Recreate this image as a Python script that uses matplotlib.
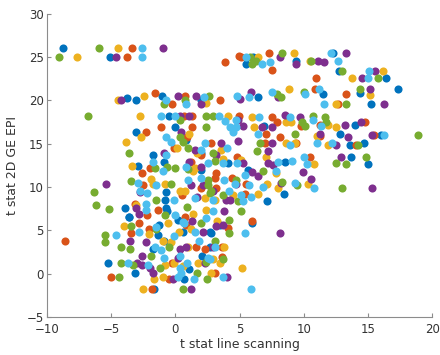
import matplotlib
matplotlib.use("Agg")
import matplotlib.pyplot as plt

# ---- data (t stat line scanning, t stat 2D GE EPI), one list per colour group ----
blue_x = [-8.76, -5.07, -3.77, -3.04, -1.01, 2.03, -0.52, -0.05, -3.04, 0.86, -1.74, 2.03, -0.88, -2.91,
          4.1, 6.05, 5.53, 9.38, 12.29, 12.75, 16.44, 17.33, 14.37, 11.51, 6.44, 15.27, 6.91, 13.98, 12.81,
          16.05, 13.64, 14.7, 8.52, 13.72, 15.0, 5.66, 8.5, 7.14, 5.95, 2.67, -1.35, 0.6, 2.7, -1.27, -3.61,
          0.17, 2.8, -3.12, -1.67, -1.74, 0.67, 2.1, 1.04, -5.25, -3.9, -3.64, -0.83, -0.7, -0.62, 2.03,
          -0.76, -0.92, 3.5]
blue_y = [26, 25, 20.3, 20.1, 20.5, 20.1, 18.2, 16.9, 16.4, 15.4, 13.7, 13.9, 12.94, 12.4,
          12.8, 25.06, 24.2, 24.56, 25.5, 23.4, 22.56, 21.3, 20.9, 20.7, 20.35, 19.6, 17.0, 17.2, 16.1,
          16.0, 14.86, 15.1, 12.9, 13.45, 12.66, 11.97, 9.2, 8.4, 5.85, 3.1, 4.5, 4.8, 4.8, 5.6, 6.5,
          6.2, 4.7, 0.04, -1.76, 2.8, -0.65, 2.0, 0.6, 1.27, 7.55, 6.6, 8.5, 7.6, 7.2, 12.0,
          9.4, 3.8, 5.6]

orange_x = [-3.38, -3.77, 3.84, 4.96, -1.56, -0.24, 0.73, 0.67, 1.32, -1.09, 1.3, -2.26, 0.93, 2.8, -0.11,
            1.97, 1.25, -2.0, 3.45, 5.09, 7.3, 7.56, 10.99, 13.27, 10.86, 12.68, 4.96, 7.56, 7.95, 9.82,
            11.25, 14.75, 15.45, 14.06, 11.25, 9.43, 8.13, 7.04, 6.96, 10.47, 4.8, 5.4, 6.0, 4.4, 5.5,
            3.6, 3.66, 3.1, 3.2, 3.1, 3.2, 4.1, -8.63, -3.43, -2.05, -2.83, 0.85, -4.99, -1.82, -0.26,
            -0.52, 1.64, 2.3, -3.17, -2.52, -2.18, 0.52, 0.73, 1.97, -1.35, -2.57]
orange_y = [26, 25, 24.4, 25.1, 20.9, 19.56, 20.5, 18.2, 18.2, 16.9, 16.9, 16.4, 15.8, 15.1, 14.5,
            13.7, 12.94, 12.2, 20.1, 25.06, 25.5, 23.5, 22.56, 20.7, 21.3, 19.6, 18.2, 18.05, 17.5, 17.0,
            17.2, 17.5, 16.0, 14.86, 15.9, 15.1, 15.8, 16.1, 15.1, 13.45, 13.5, 9.2, 6.12, 11.0, 10.4,
            3.1, 1.97, 0.04, 11.6, 11.0, 9.86, 5.3, 3.8, 4.7, 5.2, 5.8, 5.6, -0.34, -1.76, 1.27,
            -0.65, 3.1, 2.8, 8.0, 10.2, 6.8, 9.1, 6.6, 9.85, 7.4, 11.6]

yellow_x = [-7.67, -4.47, -4.47, -2.45, 2.42, -2.78, -2.7, 1.04, -3.87, 0.15, 1.71, -3.35, 1.5,
            4.1, 3.58, 3.71, 6.41, 9.22, 10.47, 16.18, 13.77, 15.2, 8.83, 12.5, 6.0, 6.1, 8.6, 9.04,
            11.9, 12.55, 11.92, 11.04, 8.65, 9.3, 7.09, 10.78, 5.14, 7.8, 10.3, 8.0, 6.4, 5.19, 4.5,
            7.1, 3.1, 3.8, 2.93, 3.5, 2.8, -4.03, -2.05, 0.3, 1.25, 3.25, -3.1, 2.4, -1.67, -2.52,
            -0.37, -0.83, -0.11, -0.96, 1.77, -1.0, 1.0, 0.6, -1.87, -1.74, -0.57, 0.34, 0.73, 1.37,
            2.29, 1.37, -0.83]
yellow_y = [25, 26, 20.1, 20.5, 19.67, 18.2, 15.8, 16.1, 15.2, 14.5, 13.9, 12.4, 12.2,
            18.2, 14.3, 13.3, 25.06, 25.5, 24.5, 23.4, 22.56, 20.6, 21.3, 19.6, 18.05, 16.9, 17.5, 17.5,
            17.2, 16.9, 14.86, 15.9, 15.1, 15.1, 13.5, 12.66, 13.1, 11.6, 10.3, 9.9, 9.2, 0.7, 9.1,
            10.4, 8.5, 3.1, 1.7, 1.2, 0.04, 5.5, 4.6, 4.8, 5.2, 6.1, 7.9, 7.3, -0.65, -1.76,
            3.7, 1.0, 1.27, -0.34, 1.27, 3.8, 3.05, 0.9, 10.9, 10.3, 5.8, 9.5, 9.5, 6.9,
            8.7, 11.8, 10.3]

purple_x = [-4.65, -0.97, -4.21, 0.21, 1.64, 2.03, 0.34, 1.04, 0.46, 1.5, -0.88, 1.06, 1.97,
            3.58, 3.19, 8.13, 9.43, 11.12, 11.58, 13.33, 15.59, 14.57, 15.14, 8.0, 5.0, 5.92, 16.24,
            4.88, 5.27, 6.75, 7.56, 8.57, 9.69, 13.25, 14.5, 13.46, 15.35, 12.5, 11.3, 7.56, 4.88, 7.22,
            7.22, 7.61, 12.88, 5.27, 6.0, 6.45, 9.95, 10.6, 15.35, 8.2, 8.18, 4.75, 4.23, 4.0, 3.95,
            3.8, 3.2, -5.38, 2.15, -2.83, 1.3, 3.7, -3.56, -2.26, -2.96, -2.6, -2.6, -2.0, -1.74,
            -0.18, 0.21, 0.34, 0.86, 1.25, 2.3, 2.9, -3.04, 1.71, 1.25, 2.16, 2.93, -2.78]
purple_y = [25, 26, 20.1, 20.5, 20.5, 19.56, 18.2, 18.2, 16.4, 14.3, 13.9, 12.94, 12.3,
            15.1, 13.7, 25.06, 24.2, 24.5, 24.4, 25.5, 23.4, 22.56, 21.3, 20.35, 20.2, 21.0, 19.6,
            17.7, 17.0, 16.9, 16.9, 18.3, 18.05, 17.2, 17.5, 15.8, 16.0, 14.86, 16.1, 15.1, 15.3, 14.2,
            12.8, 12.55, 13.45, 12.8, 11.7, 11.3, 11.7, 10.9, 9.9, 10.5, 4.66, 10.4, 8.5, -0.34, 8.5,
            7.2, 5.5, 10.4, 4.8, 6.9, 6.1, 5.6, 3.8, 3.7, 1.27, 2.0, 1.0, 0.62, 0.04,
            -0.65, 1.77, 2.9, 3.1, -1.8, 1.27, 3.1, 7.55, 8.9, 10.2, 10.2, 9.5, 9.4]

green_x = [-9.07, -5.95, -0.88, 0.78, 2.6, 0.34, 2.42, 2.93, 2.42, 0.34, 0.6, 0.99, -3.64, 2.93,
           -1.61, -0.62, -0.05, -6.81, 3.06, 5.79, 6.0, 6.26, 8.34, 10.6, 12.99, 15.8, 14.37, 10.0,
           7.92, 8.2, 13.27, 9.9, 10.08, 10.73, 11.64, 11.71, 18.9, 14.24, 9.3, 6.57, 6.36, 14.83,
           12.55, 13.27, 6.8, 13.0, 9.5, 8.3, 4.9, 5.09, 4.7, 3.06, 3.7, 3.7, 2.8, 4.2, 4.2,
           -6.34, -6.16, -5.17, -5.51, -3.43, -1.5, 2.0, -5.5, -4.26, -4.42, -3.56, -4.21, -3.3,
           -1.92, -1.22, -0.52, 0.6, 1.7, 2.5, 2.4, 0.93, -3.48, -1.48, -0.83, -0.31, 0.99, 2.55,
           2.68, 2.55]
green_y = [25, 26, 19.56, 20.06, 20.5, 17.75, 18.2, 18.2, 16.9, 15.8, 15.2, 14.5, 13.9, 13.9,
           12.2, 12.3, 12.2, 18.2, 13.0, 25.06, 24.2, 24.5, 25.5, 24.5, 23.4, 22.56, 21.3, 21.0,
           20.7, 20.35, 19.6, 17.5, 17.0, 18.2, 18.05, 17.5, 16.0, 14.86, 16.1, 15.1, 14.2, 13.45,
           12.8, 12.66, 11.8, 9.9, 10.2, 10.6, 8.4, 7.24, 10.8, 3.8, 1.7, 9.1, 9.5, 6.2, 4.7,
           9.4, 7.9, 7.5, 4.5, 5.5, 5.2, 5.8, 3.7, 3.1, -0.34, 2.8, 1.27, 1.0,
           2.0, 0.62, 3.1, -1.8, 0.04, -0.65, 1.4, 7.7, 10.7, 8.5, 6.8, 10.3, 12.1, 10.2,
           9.3, 10.8]

lblue_x = [-2.57, -2.57, -0.76, 0.86, 2.24, -1.09, -0.05, -0.7, -0.37, 2.29, 2.03, -0.7, -1.74, 2.55,
           0.86, 3.4, 3.84, 4.23, 4.49, 4.02, 3.71, 5.53, 6.78, 7.4, 12.1, 12.68, 15.09, 15.0, 11.2,
           10.13, 7.53, 4.83, 5.74, 11.56, 4.7, 4.75, 6.52, 8.91, 10.73, 11.38, 16.24, 12.23, 11.04,
           8.91, 6.4, 8.0, 9.12, 10.03, 10.26, 4.8, 5.4, 7.8, 10.8, 9.3, 5.9, 5.3, 5.4, 5.92, 4.62,
           5.7, 6.8, 5.1, 3.8, 4.2, 2.9, 3.1, 2.67, 3.7, -4.65, -2.83, -0.12, 1.5, 0.7, 2.4,
           -3.69, -2.13, -1.61, -1.09, -0.88, 0.21, 0.34, 0.46, 0.34, 1.45, 2.55, 0.94, 1.8, -1.5,
           -2.91, -2.78, -2.18, -2.26, -2.26, -1.48, -0.11, -0.96, -0.05, 0.6, 1.5, 2.93, 0.99, 2.03]
lblue_y = [26, 25, 20.06, 19.56, 20.4, 18.2, 18.2, 15.8, 15.2, 15.1, 14.3, 13.7, 12.94, 12.75,
           12.3, 18.2, 17.6, 16.9, 16.4, 14.5, 12.8, 25.06, 24.2, 24.4, 25.5, 24.5, 23.4, 22.56, 21.3,
           20.7, 21.0, 20.5, 20.35, 19.6, 17.7, 16.9, 18.05, 18.1, 17.7, 17.0, 16.0, 15.1, 15.1,
           14.86, 16.1, 12.9, 13.05, 13.45, 12.66, 12.8, 11.4, 11.8, 9.9, 10.5, 8.8, 8.4, 4.66, -1.73, 10.3,
           10.24, 10.05, 9.1, 10.8, 9.55, 7.2, 3.1, 1.7, -0.34, 4.5, 4.8, 4.3, 4.8, 5.8, 6.4,
           1.27, 1.0, 3.1, 2.7, 1.77, -0.34, 0.62, 0.12, 2.0, -0.65, 1.77, 1.2, 3.8, 10.2,
           10.5, 9.5, 9.3, 8.0, 7.35, 5.4, 8.5, 11.8, 6.8, 6.0, 8.7, 8.5, 10.8, 11.0]

x_ticks = [-10, -5, 0, 5, 10, 15, 20]
y_ticks = [-5, 0, 5, 10, 15, 20, 25, 30]

groups = [
    (blue_x, blue_y, "#0072BD"),
    (orange_x, orange_y, "#D95319"),
    (yellow_x, yellow_y, "#EDB120"),
    (purple_x, purple_y, "#7E2F8E"),
    (green_x, green_y, "#77AC30"),
    (lblue_x, lblue_y, "#4DBEEE"),
]

fig = plt.figure(figsize=(4.4, 3.55), dpi=100)
ax = fig.add_axes([0.107, 0.107, 0.875, 0.854])
for gx, gy, col in groups:
    ax.scatter(gx, gy, s=34, c=col, linewidths=0, zorder=2)

ax.set_xlim(-10, 20)
ax.set_ylim(-5, 30)
ax.set_xticks(x_ticks)
ax.set_yticks(y_ticks)
for side in ("top", "right"):
    ax.spines[side].set_visible(False)
for side in ("left", "bottom"):
    ax.spines[side].set_color("#8c8c8c")
    ax.spines[side].set_linewidth(0.8)
ax.tick_params(direction="in", length=3, width=0.8, color="#8c8c8c",
               labelsize=8.5, labelcolor="#333333")
ax.tick_params(axis="x", pad=4)
ax.tick_params(axis="y", pad=2.5)
ax.set_xlabel("t stat line scanning", fontsize=9, color="#333333", labelpad=2)
ax.set_ylabel("t stat 2D GE EPI", fontsize=9, color="#333333", labelpad=5)

fig.savefig("out.png", dpi=100)
